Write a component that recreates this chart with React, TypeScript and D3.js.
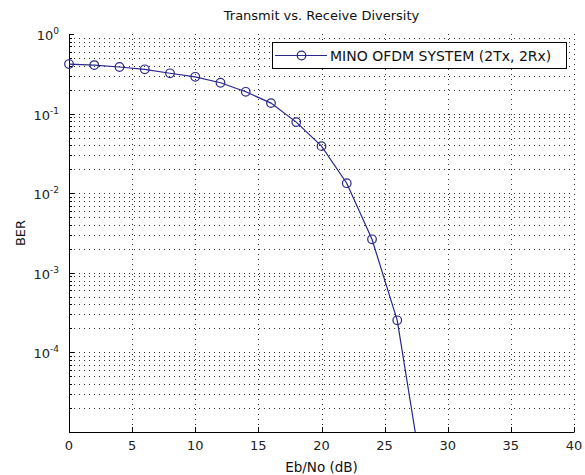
import React from "react";
import * as d3 from "d3";

const ebno = [0, 2, 4, 6, 8, 10, 12, 14, 16, 18, 20, 22, 24, 26, 28];
const ber = [0.419, 0.407, 0.385, 0.36, 0.321, 0.29, 0.244, 0.188, 0.1355, 0.0782, 0.039, 0.01336, 0.002637, 0.000253, 0.0000027];
const xTicks = [0, 5, 10, 15, 20, 25, 30, 35, 40];
const yDecadeLabels = [0, -1, -2, -3, -4];
const legendLabel = "MINO OFDM SYSTEM (2Tx, 2Rx)";
const title = "Transmit vs. Receive Diversity";
const xLabel = "Eb/No (dB)";
const yLabel = "BER";

const W = 585, H = 475;
const L = 69, R = 574, T = 34, B = 432;
const FONT = "'DejaVu Sans', Verdana, sans-serif";
const LINE = "#28288c";

export default function App() {
  const x = d3.scaleLinear().domain([0, 40]).range([L, R]);
  const y = d3.scaleLog().domain([1e-5, 1]).range([B, T]);
  const pts = ebno.map((e, i) => [e, ber[i]] as [number, number]);
  const line = d3.line<[number, number]>().x(d => x(d[0])).y(d => y(d[1]));

  const minor: number[] = [];
  for (let e = -5; e < 0; e++) for (let m = 1; m <= 9; m++) minor.push(m * Math.pow(10, e));
  const majorY = [-5, -4, -3, -2, -1, 0].map(e => Math.pow(10, e));

  const grid = { stroke: "#333", strokeWidth: 1, strokeDasharray: "1,4", fill: "none" };
  const visiblePts = pts.filter(p => p[1] >= 1e-5);

  return (
    <svg width={W} height={H} style={{ position: "absolute", left: 0, top: 0, background: "#fff" }}>
      <defs>
        <clipPath id="plot"><rect x={L} y={T} width={R - L} height={B - T} /></clipPath>
      </defs>
      <rect x={0} y={0} width={W} height={H} fill="#fff" />
      {/* grid */}
      {minor.map((v, i) => (
        <line key={"mg" + i} x1={L} x2={R} y1={Math.round(y(v)) + 0.5} y2={Math.round(y(v)) + 0.5} {...grid} />
      ))}
      {xTicks.slice(1).map(t => (
        <line key={"xg" + t} x1={Math.round(x(t)) + 0.5} x2={Math.round(x(t)) + 0.5} y1={T} y2={B} {...grid} />
      ))}
      {/* axes */}
      <line x1={L + 0.5} x2={L + 0.5} y1={T} y2={B + 0.5} stroke="#000" />
      <line x1={L} x2={R + 0.5} y1={B + 0.5} y2={B + 0.5} stroke="#000" />
      {xTicks.map(t => (
        <line key={"xt" + t} x1={Math.round(x(t)) + 0.5} x2={Math.round(x(t)) + 0.5} y1={B} y2={B - 5} stroke="#000" />
      ))}
      {majorY.map((v, i) => (
        <line key={"yt" + i} x1={L} x2={L + 5} y1={Math.round(y(v)) + 0.5} y2={Math.round(y(v)) + 0.5} stroke="#000" />
      ))}
      {minor.map((v, i) => (
        <line key={"ymt" + i} x1={L} x2={L + 3} y1={Math.round(y(v)) + 0.5} y2={Math.round(y(v)) + 0.5} stroke="#000" />
      ))}
      {/* tick labels */}
      {xTicks.map(t => (
        <text key={"xl" + t} x={x(t)} y={450} textAnchor="middle" fontFamily={FONT} fontSize={13} fill="#222">{t}</text>
      ))}
      {yDecadeLabels.map(e => (
        <text key={"yl" + e} x={L - 10} y={y(Math.pow(10, e)) + 6} textAnchor="end" fontFamily={FONT} fontSize={13} fill="#222">
          10<tspan dy={-6} fontSize={9}>{e}</tspan>
        </text>
      ))}
      {/* data */}
      <g clipPath="url(#plot)">
        <path d={line(pts) || ""} fill="none" stroke={LINE} strokeWidth={1.2} />
      </g>
      {visiblePts.map((p, i) => (
        <circle key={"m" + i} cx={x(p[0])} cy={y(p[1])} r={4.3} fill="none" stroke={LINE} strokeWidth={1.2} />
      ))}
      {/* legend */}
      <rect x={272.5} y={42.5} width={294} height={26} fill="#fff" stroke="#000" />
      <line x1={275} x2={327} y1={55.5} y2={55.5} stroke={LINE} strokeWidth={1.2} />
      <circle cx={301.5} cy={55.5} r={4.3} fill="none" stroke={LINE} strokeWidth={1.2} />
      <text x={330} y={61} fontFamily={FONT} fontSize={14} fill="#111">{legendLabel}</text>
      {/* titles */}
      <text x={(L + R) / 2} y={20} textAnchor="middle" fontFamily={FONT} fontSize={13} fill="#111">{title}</text>
      <text x={(L + R) / 2} y={472} textAnchor="middle" fontFamily={FONT} fontSize={13.5} fill="#111">{xLabel}</text>
      <text transform={`translate(25,${(T + B) / 2}) rotate(-90)`} textAnchor="middle" fontFamily={FONT} fontSize={13} fill="#111">{yLabel}</text>
    </svg>
  );
}
